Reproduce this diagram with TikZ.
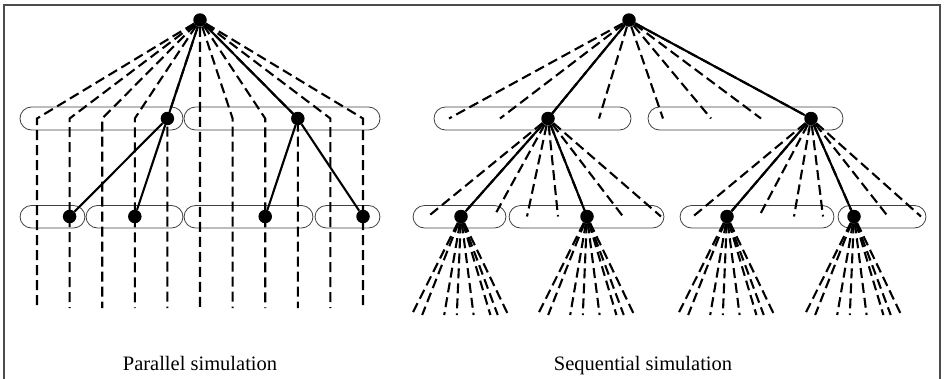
\documentclass[tikz,border=0pt]{standalone}
\usepackage{fontspec}
\setmainfont{Liberation Serif}
\begin{document}
\begin{tikzpicture}[x=1pt,y=-1pt,
  dot/.style={circle,fill=black,inner sep=0pt,minimum size=13.5pt},
  dashedge/.style={line width=2.1pt,dash pattern=on 10pt off 5pt},
  solidedge/.style={line width=2.1pt},
  group/.style={draw=black!75,line width=0.8pt,rounded corners=11.5pt},
  frame/.style={draw=black!70,line width=1.3pt},
  caption/.style={font=\fontsize{20.5}{24}\selectfont,anchor=base}]
\useasboundingbox (0,0) rectangle (944,378);

% outer frame
\draw[frame] (4,380) -- (4,5) -- (940,5) -- (940,380);

% ---------------- parallel simulation ----------------
% processor groups
\draw[group] (20,107) rectangle (183,130);
\draw[group] (184,107) rectangle (380,130);
\draw[group] (20,205.5) rectangle (85,228);
\draw[group] (86,205.5) rectangle (183,228);
\draw[group] (184,205.5) rectangle (313,228);
\draw[group] (315,205.5) rectangle (380,228);

\node[dot] (pr) at (200,20) {};
\foreach \i in {1,...,11} {
  \coordinate (pc-\i) at ({37+32.6*(\i-1)},118.5);
  \coordinate (pb-\i) at ({37+32.6*(\i-1)},308);
}
\node[dot] (pa) at (pc-5) {};
\node[dot] (pb) at (pc-9) {};
\node[dot] (pc) at ({37+32.6},216.5) {};
\node[dot] (pd) at ({37+32.6*3},216.5) {};
\node[dot] (pe) at ({37+32.6*7},216.5) {};
\node[dot] (pf) at ({37+32.6*10},216.5) {};

\foreach \i in {1,...,11}
  \draw[dashedge] (pr) -- (pc-\i) -- (pb-\i);
\draw[solidedge] (pr) -- (pa);
\draw[solidedge] (pr) -- (pb);
\draw[solidedge] (pa) -- (pc);
\draw[solidedge] (pa) -- (pd);
\draw[solidedge] (pb) -- (pe);
\draw[solidedge] (pb) -- (pf);

\node[caption] (ptitle) at (200,370) {Parallel simulation};

% ---------------- sequential simulation ----------------
\draw[group] (434,107) rectangle (631,130);
\draw[group] (648,107) rectangle (843,130);
\draw[group] (413,205.5) rectangle (506,228);
\draw[group] (509,205.5) rectangle (664,228);
\draw[group] (680,205.5) rectangle (834,228);
\draw[group] (838,205.5) rectangle (926,228);

\node[dot] (sr) at (629,20) {};
\foreach \x [count=\k] in {449,500,548,599,663,711,761,811}
  \coordinate (sone-\k) at (\x,118.5);
\node[dot] (sa) at (sone-3) {};
\node[dot] (sb) at (sone-8) {};

\foreach \x [count=\k] in {428,461,494,527,558,587,623,661}
  \coordinate (stwoa-\k) at (\x,216.5);
\foreach \x [count=\k] in {693,727,759,794,823,854,888,921}
  \coordinate (stwob-\k) at (\x,216.5);
\node[dot] (sc) at (stwoa-2) {};
\node[dot] (sd) at (stwoa-6) {};
\node[dot] (se) at (stwob-2) {};
\node[dot] (sf) at (stwob-6) {};

\foreach \k in {1,...,8} {
  \draw[dashedge] (sr) -- (sone-\k);
  \draw[dashedge] (sa) -- (stwoa-\k);
  \draw[dashedge] (sb) -- (stwob-\k);
}
\draw[solidedge] (sr) -- (sa);
\draw[solidedge] (sr) -- (sb);
\draw[solidedge] (sa) -- (sc);
\draw[solidedge] (sa) -- (sd);
\draw[solidedge] (sb) -- (se);
\draw[solidedge] (sb) -- (sf);

% third level fans
\foreach \n in {sc,sd,se,sf}
  \foreach \o [count=\k] in {-47,-37,-16,-4,12,28,35,45} {
    \path (\n) ++(\o*1.05,98.5) coordinate (\n-leaf\k);
    \draw[dashedge] (\n) -- (\n-leaf\k);
  }

\node[caption] (stitle) at (643,370) {Sequential simulation};
\end{tikzpicture}
\end{document}
